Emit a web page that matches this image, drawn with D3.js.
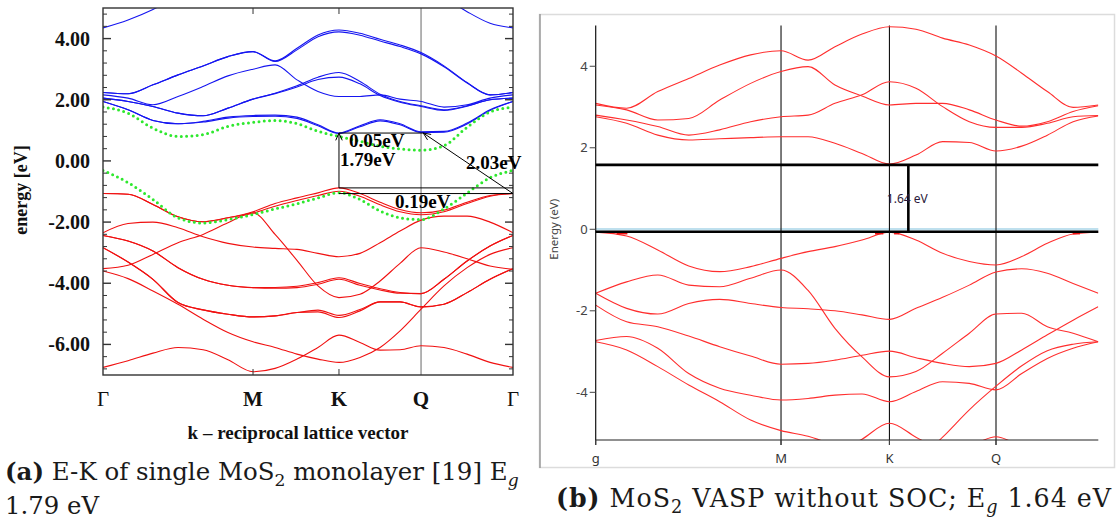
<!DOCTYPE html>
<html><head><meta charset="utf-8">
<script src="https://cdn.jsdelivr.net/npm/d3@7"></script>
<style>body{margin:0;background:#fff}svg{display:block}</style>
</head><body>
<svg id="chart" width="1117" height="527"></svg>
<script>
// ================= DATA =================
// ---- panel (a): k grid (units of |Γ-M|), high-symmetry points ----
const kGridA = [0, 0.167, 0.333, 0.5, 0.667, 0.833, 1.0, 1.147, 1.293, 1.433, 1.573, 1.713, 1.847, 1.98, 2.12, 2.273, 2.427, 2.58, 2.733];
const kTicksA = [0, 1, 1.573, 2.12, 2.733];
const kLabelsA = ["Γ", "M", "K", "Q", "Γ"];
const yTicksA = [4, 2, 0, -2, -4, -6];
// conduction bands (blue), eV
const cbA_0 = [4.35, 4.61, 4.95, 5.4, 5.8, 6.0, 6.2, 6.2, 6.2, 6.2, 6.2, 6.2, 6.2, 6.0, 5.8, 5.35, 4.88, 4.50, 4.35];
const cbA_1 = [2.237, 2.194, 2.487, 2.813, 3.107, 3.411, 3.574, 3.270, 3.683, 4.118, 4.281, 4.172, 3.976, 3.792, 3.542, 3.107, 2.563, 2.161, 2.237];
const cbA_1b = [2.237, 2.194, 2.487, 2.813, 3.107, 3.411, 3.574, 3.25, 3.63, 4.06, 4.22, 4.11, 3.92, 3.74, 3.50, 3.08, 2.55, 2.161, 2.237];
const cbA_2 = [2.161, 2.052, 1.835, 2.107, 2.433, 2.781, 2.998, 3.139, 2.650, 2.270, 2.107, 2.107, 2.161, 2.020, 1.944, 1.759, 1.835, 2.052, 2.161];
const cbA_3 = [2.052, 1.944, 1.781, 1.563, 1.476, 1.726, 2.020, 2.215, 2.455, 2.737, 2.889, 2.596, 2.183, 1.944, 1.803, 1.672, 1.803, 1.998, 2.052];
const cbA_3b = [2.052, 1.944, 1.781, 1.563, 1.476, 1.726, 2.020, 2.20, 2.42, 2.66, 2.74, 2.52, 2.14, 1.92, 1.78, 1.65, 1.79, 1.998, 2.052];
const cbA_4 = [1.944, 1.672, 1.324, 1.215, 1.292, 1.433, 1.487, 1.498, 1.433, 1.183, 0.911, 1.150, 1.346, 1.215, 0.955, 0.966, 1.237, 1.672, 1.944];
const cbA_4b = [1.944, 1.672, 1.324, 1.215, 1.27, 1.40, 1.45, 1.46, 1.39, 1.15, 0.90, 1.12, 1.31, 1.18, 0.93, 0.94, 1.21, 1.65, 1.944];
// valence bands (red), eV
const vbA_1 = [-1.067, -1.088, -1.425, -1.827, -1.990, -1.860, -1.664, -1.393, -1.208, -1.045, -0.882, -1.067, -1.349, -1.588, -1.697, -1.610, -1.349, -1.132, -1.067];
const vbA_1b = [-1.067, -1.088, -1.425, -1.827, -1.990, -1.860, -1.708, -1.480, -1.295, -1.132, -0.990, -1.153, -1.436, -1.664, -1.762, -1.664, -1.393, -1.153, -1.067];
const vbA_2 = [-2.349, -2.045, -2.001, -2.186, -2.480, -2.697, -2.817, -2.860, -2.893, -3.023, -3.132, -3.023, -2.675, -2.295, -1.936, -1.806, -1.806, -2.001, -2.349];
const vbA_3 = [-3.523, -3.414, -3.056, -2.675, -2.403, -2.023, -1.697, -2.403, -3.251, -4.088, -4.469, -4.360, -3.925, -3.349, -2.838, -2.980, -3.197, -3.436, -3.545];
const vbA_4 = [-2.436, -2.621, -2.947, -3.490, -3.871, -4.067, -4.143, -4.164, -4.143, -4.034, -3.871, -4.067, -4.219, -4.327, -4.338, -3.871, -3.273, -2.784, -2.436];
const vbA_4b = [-2.436, -2.621, -2.947, -3.490, -3.871, -4.067, -4.143, -4.14, -4.10, -3.98, -3.82, -4.01, -4.18, -4.30, -4.338, -3.871, -3.273, -2.784, -2.436];
const vbA_5 = [-2.838, -3.306, -3.871, -4.632, -4.871, -5.012, -5.099, -5.067, -4.958, -4.936, -5.121, -4.903, -4.610, -4.610, -4.773, -4.686, -4.306, -3.871, -3.523];
const vbA_5b = [-2.838, -3.306, -3.871, -4.632, -4.871, -5.012, -5.099, -5.067, -4.958, -4.88, -5.05, -4.86, -4.610, -4.610, -4.773, -4.686, -4.306, -3.871, -3.523];
const vbA_6 = [-3.599, -3.849, -4.251, -4.686, -5.175, -5.610, -5.914, -6.099, -6.317, -6.480, -6.588, -6.425, -6.099, -5.556, -4.849, -4.088, -3.490, -3.056, -2.838];
const vbA_7 = [-6.751, -6.534, -6.284, -6.099, -6.175, -6.501, -6.893, -6.784, -6.480, -6.099, -5.697, -5.936, -6.186, -6.175, -6.045, -6.099, -6.317, -6.588, -6.751];
// reference DFT bands (green dotted), eV
const dftA_cb = [1.76, 1.56, 1.07, 0.80, 0.86, 1.13, 1.26, 1.32, 1.22, 0.97, 0.80, 0.64, 0.48, 0.39, 0.35, 0.50, 1.10, 1.60, 1.76];
const dftA_vb = [-0.31, -0.71, -1.26, -1.86, -2.03, -1.92, -1.75, -1.57, -1.40, -1.21, -1.04, -1.26, -1.64, -1.86, -1.92, -1.57, -1.05, -0.55, -0.31];
// gap annotation levels (eV): K CBM, K VBM, Γ VBM ; k: K, Q-box end, Γ
const gapA_E = [0.911, -0.882, -1.067];
const gapA_k = [1.573, 2.135, 2.733];
const gapA_text = ["0.05eV", "1.79eV", "2.03eV", "0.19eV"];
const gapA_textK = [1.64, 1.58, 2.42, 1.947];
const gapA_textE = [0.46, -0.15, -0.25, -1.555];

// ---- panel (b) ----
const kGridB = [0, 0.167, 0.335, 0.502, 0.669, 0.836, 1.0, 1.146, 1.291, 1.437, 1.585, 1.728, 1.872, 2.016, 2.160, 2.299, 2.437, 2.576, 2.712];
const kTicksB = [0, 1, 1.585, 2.16];
const kLabelsB = ["g", "M", "K", "Q"];
const yTicksB = [4, 2, 0, -2, -4];
const cbB_1 = [3.09, 2.97, 3.38, 3.70, 4.03, 4.28, 4.38, 4.15, 4.48, 4.79, 4.97, 4.91, 4.69, 4.52, 4.25, 3.83, 3.38, 2.99, 3.05];
const cbB_2 = [3.05, 2.93, 2.68, 2.72, 3.17, 3.58, 3.87, 3.99, 3.54, 3.27, 3.05, 3.09, 3.09, 2.93, 2.68, 2.53, 2.64, 2.89, 3.03];
const cbB_3 = [2.80, 2.68, 2.52, 2.31, 2.44, 2.64, 2.76, 2.80, 3.09, 3.30, 3.62, 3.46, 3.01, 2.64, 2.50, 2.50, 2.60, 2.76, 2.79];
const cbB_4 = [2.76, 2.60, 2.31, 2.19, 2.22, 2.25, 2.27, 2.27, 2.11, 1.86, 1.60, 1.82, 2.15, 2.13, 1.92, 2.04, 2.31, 2.64, 2.78];
const vbB_1 = [-0.07, -0.165, -0.508, -0.90, -1.04, -0.917, -0.713, -0.549, -0.426, -0.263, -0.07, -0.263, -0.59, -0.79, -0.876, -0.67, -0.345, -0.115, -0.07];
const vbB_2 = [-1.57, -1.29, -1.12, -1.37, -1.41, -1.20, -1.0, -1.5, -2.43, -3.13, -3.62, -3.49, -3.04, -2.55, -2.08, -2.06, -2.39, -2.55, -2.76];
const vbB_3 = [-1.57, -1.94, -2.08, -1.82, -1.72, -1.82, -1.92, -1.95, -2.0, -2.10, -2.21, -1.94, -1.67, -1.37, -1.05, -0.97, -1.08, -1.33, -1.57];
const vbB_4 = [-1.86, -2.27, -2.39, -2.62, -2.88, -3.11, -3.31, -3.29, -3.21, -3.09, -2.99, -3.15, -3.29, -3.37, -3.29, -2.96, -2.59, -2.23, -1.90];
const vbB_5 = [-2.73, -2.63, -2.92, -3.54, -3.90, -4.07, -4.19, -4.15, -4.07, -4.04, -4.23, -3.98, -3.74, -3.78, -3.94, -3.54, -3.17, -2.92, -2.76];
const vbB_6 = [-2.76, -2.96, -3.37, -3.82, -4.23, -4.68, -4.94, -5.08, -5.3, -5.5, -5.7, -5.8, -5.9, -5.9, -5.9, -5.9, -5.9, -5.9, -5.9];
const vbB_7 = [-5.9, -5.9, -5.9, -5.9, -5.9, -5.9, -5.9, -5.8, -5.5, -5.15, -4.76, -5.1, -5.45, -5.7, -5.9, -5.9, -5.9, -5.9, -5.9];
const vbB_8 = [-5.9, -5.9, -5.9, -5.9, -5.9, -5.9, -5.9, -5.9, -5.9, -5.9, -5.9, -5.7, -5.1, -4.43, -3.85, -3.35, -2.98, -2.82, -2.76];
const vbB_9 = [-5.9, -5.9, -5.9, -5.9, -5.9, -5.9, -5.9, -5.9, -5.9, -5.9, -5.9, -5.9, -5.7, -5.35, -5.09, -5.35, -5.7, -5.9, -5.9];
const vbmMarksB = [[0.113, 0.171], [1.507, 1.552], [1.610, 1.638], [2.574, 2.613]];
const vbmMarkE = -0.09;
const gapB_E = [1.58, -0.06];
const gapB_k = 1.687;
const gapB_text = "1.64 eV";

// ================= DRAW =================
const svg = d3.select("#chart");
svg.append("rect").attr("width", 1117).attr("height", 527).attr("fill", "#fff");
const defs = svg.append("defs");
const serif = "'Liberation Serif', 'Times New Roman', serif";
const capSerif = "'DejaVu Serif', 'Liberation Serif', serif";
const sans = "'Noto Sans', 'Open Sans', 'DejaVu Sans', sans-serif";

function drawBands(g, kGrid, bands, x, y, color, width, clipId) {
  const line = d3.line().x((d, i) => x(kGrid[i])).y(d => y(d)).curve(d3.curveMonotoneX);
  g.append("g").attr("clip-path", `url(#${clipId})`)
    .selectAll("path").data(bands).join("path")
    .attr("d", line).attr("fill", "none").attr("stroke", color).attr("stroke-width", width);
}
function arrowHead(g, x1, y1, x2, y2) {
  const a = Math.atan2(y2 - y1, x2 - x1), L = 8, s = 0.42;
  const p = [[x2 - L * Math.cos(a - s), y2 - L * Math.sin(a - s)], [x2, y2], [x2 - L * Math.cos(a + s), y2 - L * Math.sin(a + s)]];
  g.append("path").attr("d", d3.line()(p)).attr("fill", "none").attr("stroke", "#000").attr("stroke-width", 1);
}

// ---------- Panel (a) ----------
const xA = d3.scaleLinear().domain([0, 2.733]).range([103, 513]);
const yA = d3.scaleLinear().domain([-7, 5]).range([375, 8]);
defs.append("clipPath").attr("id", "clipA").append("rect")
  .attr("x", xA(0)).attr("y", yA(5)).attr("width", xA(2.733) - xA(0)).attr("height", yA(-7) - yA(5));
const gA = svg.append("g");
gA.append("line").attr("x1", xA(kTicksA[3])).attr("x2", xA(kTicksA[3])).attr("y1", yA(5)).attr("y2", yA(-7))
  .attr("stroke", "#808080").attr("stroke-width", 1.2);
drawBands(gA, kGridA, [cbA_0, cbA_1, cbA_1b, cbA_2, cbA_3, cbA_3b, cbA_4, cbA_4b], xA, yA, "#1515f0", 1.1, "clipA");
drawBands(gA, kGridA, [vbA_1, vbA_1b, vbA_2, vbA_3, vbA_4, vbA_4b, vbA_5, vbA_5b, vbA_6, vbA_7], xA, yA, "#f01010", 1.1, "clipA");
const gLine = d3.line().x((d, i) => xA(kGridA[i])).y(d => yA(d)).curve(d3.curveMonotoneX);
gA.append("g").attr("clip-path", "url(#clipA)").selectAll("path").data([dftA_cb, dftA_vb]).join("path")
  .attr("d", gLine).attr("fill", "none").attr("stroke", "#2ee82e").attr("stroke-width", 3)
  .attr("stroke-linecap", "round").attr("stroke-dasharray", "0 5.3");
gA.append("rect").attr("x", xA(0)).attr("y", yA(5)).attr("width", xA(2.733) - xA(0)).attr("height", yA(-7) - yA(5))
  .attr("fill", "none").attr("stroke", "#333").attr("stroke-width", 1.4);
const minorA = d3.range(-17, 13).map(i => +(i * 0.4).toFixed(2)).filter(v => v >= -6.8 && v <= 4.8);
minorA.forEach(v => {
  const major = Math.abs(v % 2) < 1e-6;
  const L = major ? 8 : 4;
  [[xA(0), L], [xA(2.733), -L]].forEach(([x0, d]) => {
    gA.append("line").attr("x1", x0).attr("x2", x0 + d).attr("y1", yA(v)).attr("y2", yA(v))
      .attr("stroke", "#333").attr("stroke-width", major ? 1.4 : 1);
  });
});
[kTicksA[1], kTicksA[2]].forEach(k => {
  gA.append("line").attr("x1", xA(k)).attr("x2", xA(k)).attr("y1", yA(5)).attr("y2", yA(5) + 6).attr("stroke", "#333");
  gA.append("line").attr("x1", xA(k)).attr("x2", xA(k)).attr("y1", yA(-7)).attr("y2", yA(-7) - 6).attr("stroke", "#333");
});
gA.selectAll("text.yl").data(yTicksA).join("text").attr("class", "yl")
  .attr("x", 90).attr("y", d => yA(d)).attr("dy", "0.35em").attr("text-anchor", "end")
  .attr("font-family", serif).attr("font-weight", "bold").attr("font-size", 20).attr("fill", "#111")
  .text(d => d3.format(".2f")(d).replace("−", "-"));
gA.selectAll("text.xl").data(kTicksA).join("text").attr("class", "xl")
  .attr("x", d => xA(d)).attr("y", 406).attr("text-anchor", "middle")
  .attr("font-family", serif).attr("font-weight", (d, i) => kLabelsA[i] === "Γ" ? "normal" : "bold")
  .attr("font-size", 21).attr("fill", "#111").text((d, i) => kLabelsA[i]);
gA.append("text").attr("x", 298).attr("y", 439).attr("text-anchor", "middle")
  .attr("font-family", serif).attr("font-weight", "bold").attr("font-size", 19).attr("fill", "#111")
  .text("k – reciprocal lattice vector");
gA.append("text").attr("transform", "translate(27,190) rotate(-90)").attr("text-anchor", "middle")
  .attr("font-family", serif).attr("font-weight", "bold").attr("font-size", 18).attr("fill", "#111")
  .text("energy [eV]");
const [kK, kQb, kG] = gapA_k, [eC, eVK, eVG] = gapA_E;
const ann = gA.append("g").attr("stroke", "#000").attr("stroke-width", 1).attr("fill", "none");
ann.append("line").attr("x1", xA(kK)).attr("x2", xA(kK)).attr("y1", yA(eVK)).attr("y2", yA(eC));
arrowHead(gA, xA(kK), yA(eVK), xA(kK), yA(eC));
ann.append("line").attr("x1", xA(kK)).attr("x2", xA(kQb)).attr("y1", yA(eC)).attr("y2", yA(eC));
ann.append("line").attr("x1", xA(kK)).attr("x2", xA(kG)).attr("y1", yA(eVK)).attr("y2", yA(eVK));
ann.append("line").attr("x1", xA(kK)).attr("x2", xA(kG)).attr("y1", yA(eVG)).attr("y2", yA(eVG));
ann.append("line").attr("x1", xA(kG)).attr("x2", xA(kQb)).attr("y1", yA(eVG)).attr("y2", yA(eC));
arrowHead(gA, xA(kG), yA(eVG), xA(kQb), yA(eC));
gA.selectAll("text.an").data(gapA_text).join("text").attr("class", "an")
  .attr("x", (d, i) => xA(gapA_textK[i])).attr("y", (d, i) => yA(gapA_textE[i]))
  .attr("font-family", serif).attr("font-weight", "bold").attr("font-size", 19).attr("fill", "#000")
  .text(d => d);

// ---------- Panel (b) ----------
const xB = d3.scaleLinear().domain([0, 2.712]).range([595.7, 1098.3]);
const yB = d3.scaleLinear().domain([-5.17, 5.0]).range([440, 25.5]);
defs.append("clipPath").attr("id", "clipB").append("rect")
  .attr("x", xB(0)).attr("y", yB(5)).attr("width", xB(2.712) - xB(0)).attr("height", yB(-5.17) - yB(5));
const gB = svg.append("g");
gB.append("rect").attr("x", 539.5).attr("y", 14.5).attr("width", 575).attr("height", 453)
  .attr("fill", "none").attr("stroke", "#dcdcdc").attr("stroke-width", 1.5);
gB.append("line").attr("x1", 540).attr("x2", 540).attr("y1", 14).attr("y2", 468).attr("stroke", "#9a9a9a").attr("stroke-width", 1.5);
gB.append("line").attr("x1", xB(0)).attr("x2", xB(2.712)).attr("y1", yB(0)).attr("y2", yB(0))
  .attr("stroke", "#bfe0ee").attr("stroke-width", 2.5);
kTicksB.slice(1).forEach(k => {
  gB.append("line").attr("x1", xB(k)).attr("x2", xB(k)).attr("y1", yB(5)).attr("y2", yB(-5.17) + 5)
    .attr("stroke", "#111").attr("stroke-width", 1.1);
});
drawBands(gB, kGridB, [cbB_1, cbB_2, cbB_3, cbB_4, vbB_1, vbB_2, vbB_3, vbB_4, vbB_5, vbB_6, vbB_7, vbB_8, vbB_9], xB, yB, "#ff2e2e", 1.1, "clipB");
gB.selectAll("line.vbm").data(vbmMarksB).join("line").attr("class", "vbm")
  .attr("x1", d => xB(d[0])).attr("x2", d => xB(d[1])).attr("y1", yB(vbmMarkE)).attr("y2", yB(vbmMarkE))
  .attr("stroke", "#ee1111").attr("stroke-width", 3);
gB.append("line").attr("x1", xB(0)).attr("x2", xB(0)).attr("y1", yB(5)).attr("y2", yB(-5.17) + 5).attr("stroke", "#111").attr("stroke-width", 1.2);
gB.append("line").attr("x1", xB(0)).attr("x2", xB(2.712)).attr("y1", yB(-5.17)).attr("y2", yB(-5.17)).attr("stroke", "#222").attr("stroke-width", 1.2);
gapB_E.forEach(e => gB.append("line").attr("x1", xB(0)).attr("x2", xB(2.712)).attr("y1", yB(e)).attr("y2", yB(e))
  .attr("stroke", "#000").attr("stroke-width", 2.6));
gB.append("line").attr("x1", xB(gapB_k)).attr("x2", xB(gapB_k)).attr("y1", yB(gapB_E[0])).attr("y2", yB(gapB_E[1]))
  .attr("stroke", "#000").attr("stroke-width", 2.6);
gB.append("text").attr("x", xB(gapB_k) - 21.5).attr("y", yB((gapB_E[0] + gapB_E[1]) / 2)).attr("dy", "0.35em")
  .attr("font-family", sans).attr("font-size", 12).attr("fill", "#2a1838").text(gapB_text);
yTicksB.forEach(v => {
  gB.append("line").attr("x1", xB(0) - 6).attr("x2", xB(0)).attr("y1", yB(v)).attr("y2", yB(v)).attr("stroke", "#444");
});
gB.selectAll("text.yl").data(yTicksB).join("text").attr("class", "yl")
  .attr("x", xB(0) - 8).attr("y", d => yB(d)).attr("dy", "0.35em").attr("text-anchor", "end")
  .attr("font-family", sans).attr("font-size", 13).attr("fill", "#444").text(d => String(d).replace("−", "-"));
gB.append("text").attr("transform", `translate(558,${yB(0)}) rotate(-90)`).attr("text-anchor", "middle")
  .attr("font-family", sans).attr("font-size", 11.5).attr("fill", "#444").text("Energy (eV)");
kTicksB.forEach(k => gB.append("line").attr("x1", xB(k)).attr("x2", xB(k)).attr("y1", yB(-5.17)).attr("y2", yB(-5.17) + 5).attr("stroke", "#444"));
gB.selectAll("text.xl").data(kTicksB).join("text").attr("class", "xl")
  .attr("x", d => xB(d)).attr("y", 463).attr("text-anchor", "middle")
  .attr("font-family", sans).attr("font-size", 13).attr("fill", "#333").text((d, i) => kLabelsB[i]);

// ---------- Captions (font size fitted to the measured width) ----------
function richText(x, y, parts, size, len) {
  function build(s) {
    const t = svg.append("text").attr("x", x).attr("y", y).attr("font-family", capSerif).attr("font-size", s).attr("fill", "#1a1a1a");
    let shifted = false;
    parts.forEach(p => {
      const ts = t.append("tspan").text(p.t);
      if (p.b) ts.attr("font-weight", "bold");
      if (p.it) ts.attr("font-style", "italic");
      if (p.sub) { ts.attr("dy", s * 0.25).attr("font-size", s * 0.7); shifted = true; }
      else if (shifted) { ts.attr("dy", -s * 0.25); shifted = false; }
    });
    return t;
  }
  let t = build(size);
  const nat = t.node().getComputedTextLength();
  if (nat > 0) {
    const s = Math.max(size * 0.85, Math.min(size * len / nat, size * 1.15));
    t.remove();
    t = build(s);
    const nat2 = t.node().getComputedTextLength();
    if (Math.abs(nat2 - len) > 2) t.attr("textLength", len).attr("lengthAdjust", "spacing");
  }
}
richText(5, 480, [{ t: "(a)", b: true }, { t: " E-K of single MoS" }, { t: "2", sub: true }, { t: " monolayer [19] E" }, { t: "g", sub: true, it: true }], 22, 514);
richText(5, 514, [{ t: "1.79 eV" }], 22, 94);
richText(556, 507, [{ t: "(b)", b: true }, { t: " MoS" }, { t: "2", sub: true }, { t: " VASP without SOC; E" }, { t: "g", sub: true, it: true }, { t: " 1.64 eV" }], 22, 555);
</script>
</body></html>
